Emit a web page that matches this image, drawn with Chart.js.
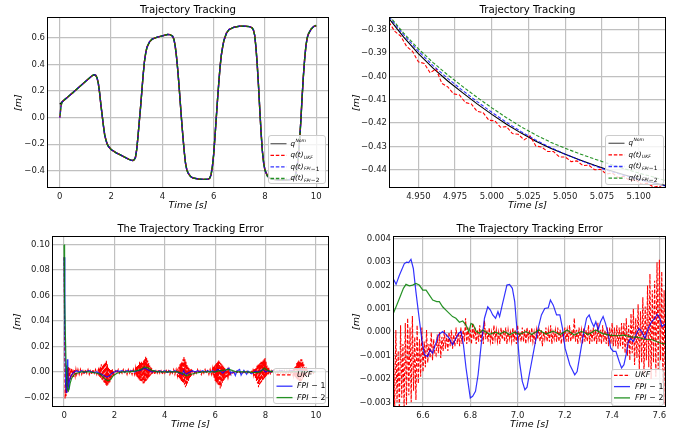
<!DOCTYPE html>
<html lang="en">
<head>
<meta charset="UTF-8">
<title>Trajectory Tracking</title>
<script src="https://cdn.jsdelivr.net/npm/chart.js@4.4.1/dist/chart.umd.min.js"></script>
<style>
  html, body { margin: 0; padding: 0; background: #fff; }
  body { width: 683px; height: 439px; position: relative; overflow: hidden; }
  canvas { position: absolute; }
</style>
</head>
<body>
<canvas id="tl" width="340" height="215" style="left:0;top:0"></canvas>
<canvas id="tr" width="343" height="215" style="left:340px;top:0"></canvas>
<canvas id="bl" width="340" height="224" style="left:0;top:215px"></canvas>
<canvas id="br" width="343" height="224" style="left:340px;top:215px"></canvas>

<script>
// ---------- top left : whole trajectory ----------
const tlTime = [0, 0.05, 0.1, 0.2, 0.3, 0.4, 0.5, 0.6, 0.7, 0.8, 0.9, 1.0, 1.1, 1.2, 1.3,
  1.35, 1.4, 1.45, 1.5, 1.55, 1.6, 1.65, 1.7, 1.75, 1.8, 1.85, 1.9,
  2.0, 2.2, 2.4, 2.6, 2.7, 2.8, 2.85, 2.9, 2.95,
  3.0, 3.05, 3.1, 3.15, 3.2, 3.25, 3.3, 3.35, 3.4, 3.5, 3.6, 3.8,
  4.0, 4.2, 4.3, 4.4, 4.45, 4.5, 4.55, 4.6, 4.65, 4.7, 4.75, 4.8, 4.85, 4.9, 4.95,
  5.0, 5.1, 5.2, 5.4, 5.6, 5.8, 5.85, 5.9, 5.95,
  6.0, 6.05, 6.1, 6.15, 6.2, 6.25, 6.3, 6.35, 6.4, 6.5, 6.6, 6.8,
  7.0, 7.2, 7.4, 7.5, 7.55, 7.6, 7.65, 7.7, 7.75, 7.8, 7.85, 7.9, 7.95,
  8.0, 8.1, 8.2, 8.4, 8.6, 8.8,
  9.0, 9.1, 9.2, 9.25, 9.3, 9.35, 9.4, 9.45, 9.5, 9.55, 9.6, 9.65, 9.7, 9.8, 9.9,
  10.0];
const tlNom = [0.100, 0.110, 0.120, 0.137, 0.153, 0.170, 0.186, 0.203, 0.220, 0.237, 0.254, 0.271, 0.288, 0.305, 0.320,
  0.322, 0.318, 0.300, 0.260, 0.190, 0.100, 0.020, -0.060, -0.130, -0.170, -0.200, -0.218,
  -0.240, -0.265, -0.285, -0.305, -0.315, -0.322, -0.323, -0.318, -0.300,
  -0.240, -0.140, -0.030, 0.080, 0.200, 0.320, 0.420, 0.485, 0.530, 0.570, 0.590, 0.605,
  0.615, 0.625, 0.624, 0.612, 0.590, 0.540, 0.460, 0.360, 0.240, 0.110, -0.020, -0.140, -0.250, -0.340, -0.390,
  -0.416, -0.444, -0.455, -0.462, -0.465, -0.463, -0.455, -0.430, -0.370,
  -0.280, -0.150, -0.010, 0.130, 0.260, 0.380, 0.470, 0.530, 0.580, 0.635, 0.662, 0.680,
  0.687, 0.688, 0.684, 0.675, 0.660, 0.620, 0.530, 0.400, 0.240, 0.060, -0.110, -0.250, -0.340,
  -0.395, -0.440, -0.458, -0.467, -0.470, -0.470,
  -0.466, -0.458, -0.430, -0.380, -0.300, -0.180, -0.030, 0.150, 0.310, 0.440, 0.540, 0.600, 0.630, 0.665, 0.685,
  0.693];
// the estimates start at zero and join the nominal curve after the second sample
const tlEstHead = [0.0, 0.092];
const tlXTicks = [0, 2, 4, 6, 8, 10];
const tlYTicks = [-0.4, -0.2, 0.0, 0.2, 0.4, 0.6];

// ---------- top right : zoom around t = 5 s ----------
const trTime = [4.93, 4.94, 4.95, 4.96, 4.97, 4.98, 4.99, 5.00, 5.01, 5.02,
  5.03, 5.04, 5.05, 5.06, 5.07, 5.08, 5.09, 5.10, 5.11, 5.12];
const trNom = [-0.3753, -0.3832, -0.3903, -0.3965, -0.4020, -0.4070, -0.4118, -0.4163, -0.4205, -0.4243,
  -0.4278, -0.4308, -0.4334, -0.4358, -0.4381, -0.4402, -0.4421, -0.4439, -0.4455, -0.4470];
const trFpi1 = [-0.3745, -0.3822, -0.3892, -0.3954, -0.4009, -0.4060, -0.4108, -0.4154, -0.4197, -0.4237,
  -0.4273, -0.4305, -0.4333, -0.4359, -0.4383, -0.4405, -0.4424, -0.4441, -0.4457, -0.4472];
const trFpi2 = [-0.3740, -0.3815, -0.3882, -0.3941, -0.3994, -0.4043, -0.4090, -0.4135, -0.4177, -0.4216,
  -0.4251, -0.4282, -0.4308, -0.4332, -0.4354, -0.4375, -0.4395, -0.4414, -0.4431, -0.4450];
const trUkf = [[4.930, -0.3768], [4.934, -0.3808], [4.938, -0.3828], [4.942, -0.3872], [4.946, -0.3893],
  [4.950, -0.3938], [4.954, -0.3945], [4.958, -0.3985], [4.962, -0.3968], [4.966, -0.4030],
  [4.970, -0.4045], [4.974, -0.4075], [4.978, -0.4080], [4.982, -0.4112], [4.986, -0.4118],
  [4.990, -0.4150], [4.994, -0.4155], [4.998, -0.4188], [5.002, -0.4190], [5.006, -0.4218],
  [5.010, -0.4215], [5.014, -0.4245], [5.018, -0.4248], [5.022, -0.4272], [5.026, -0.4255],
  [5.030, -0.4298], [5.034, -0.4303], [5.038, -0.4322], [5.042, -0.4322], [5.046, -0.4345],
  [5.050, -0.4345], [5.054, -0.4365], [5.058, -0.4362], [5.062, -0.4382], [5.066, -0.4380],
  [5.070, -0.4400], [5.074, -0.4398], [5.078, -0.4418], [5.082, -0.4414], [5.086, -0.4433],
  [5.090, -0.4428], [5.094, -0.4447], [5.098, -0.4443], [5.102, -0.4462], [5.106, -0.4457],
  [5.110, -0.4474], [5.114, -0.4470], [5.118, -0.4484], [5.122, -0.4480]];
const trXTicks = [4.95, 4.975, 5.0, 5.025, 5.05, 5.075, 5.1];
const trYTicks = [-0.44, -0.43, -0.42, -0.41, -0.40, -0.39, -0.38];

// ---------- bottom left : tracking error ----------
const blUkf = [
  [0, 0.090], [0.02, 0.035], [0.04, -0.021], [0.06, -0.008], [0.08, -0.019], [0.10, -0.004], [0.12, -0.016],
  [0.14, 0.003], [0.16, -0.012], [0.18, 0.004], [0.20, -0.008], [0.23, 0.003], [0.26, -0.006], [0.29, 0.003],
  [0.32, -0.004], [0.35, 0.002], [0.38, -0.004], [0.41, 0.002], [0.44, -0.003], [0.47, 0.002], [0.50, -0.002],
  [0.55, 0.002], [0.60, -0.002], [0.65, 0.002], [0.70, -0.002], [0.75, 0.001], [0.80, -0.002], [0.85, 0.002],
  [0.90, -0.001], [0.95, 0.002], [1.00, -0.002], [1.05, 0.001], [1.10, -0.002], [1.15, 0.002], [1.20, -0.001],
  [1.25, 0.002], [1.30, -0.002],
  [1.36, 0.002], [1.38, -0.003], [1.40, 0.003], [1.42, -0.004], [1.44, 0.004], [1.46, -0.005], [1.48, 0.006],
  [1.50, -0.006], [1.52, 0.005], [1.54, -0.007], [1.56, 0.006], [1.58, -0.008], [1.60, 0.007], [1.62, -0.009],
  [1.64, 0.008], [1.66, -0.010], [1.68, 0.009], [1.70, -0.011], [1.72, 0.006], [1.74, -0.010], [1.76, 0.004],
  [1.78, -0.009], [1.80, 0.003], [1.82, -0.008], [1.84, 0.002], [1.86, -0.006], [1.88, 0.002], [1.90, -0.004],
  [1.92, 0.002], [1.94, -0.003], [1.96, 0.001], [1.98, -0.002],
  [2.05, 0.001], [2.10, -0.001], [2.15, 0.002], [2.20, -0.001], [2.25, 0.001], [2.30, -0.001], [2.35, 0.002],
  [2.40, -0.001], [2.45, 0.001], [2.50, -0.002], [2.55, 0.002], [2.60, -0.001], [2.65, 0.001], [2.70, -0.002],
  [2.75, 0.002], [2.80, -0.002],
  [2.84, 0.003], [2.86, -0.003], [2.88, 0.004], [2.90, -0.004], [2.92, 0.005], [2.94, -0.005], [2.96, 0.006],
  [2.98, -0.006], [3.00, 0.008], [3.02, -0.007], [3.04, 0.007], [3.06, -0.007], [3.08, 0.008], [3.10, -0.008],
  [3.12, 0.007], [3.14, -0.009], [3.16, 0.009], [3.18, -0.009], [3.20, 0.010], [3.22, -0.008], [3.24, 0.012],
  [3.26, -0.007], [3.28, 0.011], [3.30, -0.006], [3.32, 0.009], [3.34, -0.005], [3.36, 0.007], [3.38, -0.004],
  [3.40, 0.005], [3.42, -0.003], [3.44, 0.004], [3.46, -0.002], [3.48, 0.003], [3.50, -0.002],
  [3.55, 0.002], [3.60, -0.002], [3.65, 0.001], [3.70, -0.001], [3.75, 0.002], [3.80, -0.001], [3.85, 0.001],
  [3.90, -0.002], [3.95, 0.001], [4.00, -0.001], [4.05, 0.002], [4.10, -0.001], [4.15, 0.001], [4.20, -0.002],
  [4.25, 0.001], [4.30, -0.001], [4.35, 0.002], [4.40, -0.002], [4.45, 0.002], [4.50, -0.003],
  [4.52, 0.003], [4.54, -0.004], [4.56, 0.004], [4.58, -0.005], [4.60, 0.006], [4.62, -0.006], [4.64, 0.007],
  [4.66, -0.007], [4.68, 0.008], [4.70, -0.008], [4.72, 0.010], [4.74, -0.009], [4.76, 0.012], [4.78, -0.010],
  [4.80, 0.010], [4.82, -0.012], [4.84, 0.008], [4.86, -0.011], [4.88, 0.006], [4.90, -0.009], [4.92, 0.004],
  [4.94, -0.007], [4.96, 0.003], [4.98, -0.005], [5.00, 0.002], [5.02, -0.004], [5.04, 0.002], [5.06, -0.003],
  [5.08, 0.001],
  [5.15, -0.002], [5.20, 0.001], [5.25, -0.001], [5.30, 0.002], [5.35, -0.001], [5.40, 0.001], [5.45, -0.002],
  [5.50, 0.001], [5.55, -0.001], [5.60, 0.002], [5.65, -0.001], [5.70, 0.001], [5.75, -0.002], [5.80, 0.002],
  [5.85, -0.002], [5.90, 0.003],
  [5.92, -0.003], [5.94, 0.004], [5.96, -0.005], [5.98, 0.005], [6.00, -0.007], [6.02, 0.006], [6.04, -0.008],
  [6.06, 0.007], [6.08, -0.009], [6.10, 0.008], [6.12, -0.010], [6.14, 0.009], [6.16, -0.011], [6.18, 0.008],
  [6.20, -0.013], [6.22, 0.007], [6.24, -0.012], [6.26, 0.006], [6.28, -0.009], [6.30, 0.005], [6.32, -0.007],
  [6.34, 0.004], [6.36, -0.006], [6.38, 0.003], [6.40, -0.005], [6.42, 0.002], [6.44, -0.004], [6.46, 0.001],
  [6.48, -0.003], [6.50, 0.0005], [6.52, -0.003], [6.54, 0.0007], [6.56, -0.003], [6.58, 0.0003], [6.60, -0.002],
  [6.65, 0.000], [6.70, -0.001], [6.75, 0.000], [6.80, -0.001], [6.85, 0.0005], [6.90, -0.0008], [6.95, 0.0002],
  [7.00, -0.0008], [7.05, 0.0002], [7.10, -0.0008], [7.15, 0.0002], [7.20, -0.0008], [7.25, 0.0005], [7.30, -0.0008],
  [7.35, 0.0003], [7.40, -0.0008], [7.45, 0.0005],
  [7.48, -0.001], [7.50, 0.001], [7.52, -0.002], [7.54, 0.002], [7.56, -0.003], [7.58, 0.003], [7.60, -0.005],
  [7.62, 0.003], [7.64, -0.007], [7.66, 0.005], [7.68, -0.009], [7.70, 0.006], [7.72, -0.012], [7.74, 0.006],
  [7.76, -0.010], [7.78, 0.007], [7.80, -0.009], [7.82, 0.008], [7.84, -0.008], [7.86, 0.008], [7.88, -0.007],
  [7.90, 0.009], [7.92, -0.006], [7.94, 0.010], [7.96, -0.005], [7.98, 0.011], [8.00, -0.004], [8.02, 0.008],
  [8.04, -0.003], [8.06, 0.005], [8.08, -0.002], [8.10, 0.003], [8.12, -0.002], [8.14, 0.002],
  [8.20, -0.002], [8.25, 0.001], [8.30, -0.001], [8.35, 0.002], [8.40, -0.001], [8.45, 0.001], [8.50, -0.002],
  [8.55, 0.001], [8.60, -0.001], [8.65, 0.002], [8.70, -0.001], [8.75, 0.001], [8.80, -0.002], [8.85, 0.001],
  [8.90, -0.001], [8.95, 0.002], [9.00, -0.002], [9.05, 0.002], [9.10, -0.003],
  [9.12, 0.003], [9.14, -0.003], [9.16, 0.004], [9.18, -0.004], [9.20, 0.005], [9.22, -0.005], [9.24, 0.007],
  [9.26, -0.006], [9.28, 0.008], [9.30, -0.006], [9.32, 0.009], [9.34, -0.007], [9.36, 0.008], [9.38, -0.008],
  [9.40, 0.010], [9.42, -0.007], [9.44, 0.010], [9.46, -0.006], [9.48, 0.008], [9.50, -0.005], [9.52, 0.006],
  [9.54, -0.004], [9.56, 0.004], [9.58, -0.003], [9.60, 0.003], [9.62, -0.002], [9.64, 0.002],
  [9.70, -0.002], [9.75, 0.001], [9.80, -0.001], [9.85, 0.001], [9.90, -0.001], [9.95, 0.001], [10.00, 0.000]];
const blFpi1 = [
  [0, 0.090], [0.03, 0.030], [0.06, -0.010], [0.09, -0.016], [0.11, 0.000], [0.13, 0.010], [0.15, 0.004],
  [0.17, -0.012], [0.19, -0.014], [0.21, -0.008], [0.25, -0.004], [0.3, -0.002], [0.35, -0.001], [0.4, 0.000],
  [0.5, 0.001], [0.6, 0.000], [0.7, 0.001], [0.8, -0.0005], [0.9, 0.0005], [1.0, 0.001], [1.1, 0.000],
  [1.2, -0.0005], [1.3, 0.000], [1.4, -0.001], [1.5, -0.002], [1.6, -0.003], [1.7, -0.004], [1.8, -0.003],
  [1.9, -0.001], [2.0, 0.000], [2.1, 0.001], [2.2, 0.0005], [2.3, 0.001], [2.4, 0.000], [2.5, 0.001],
  [2.6, 0.0005], [2.7, 0.001], [2.8, 0.000], [2.9, 0.001], [3.0, 0.001], [3.1, 0.002], [3.2, 0.003],
  [3.3, 0.002], [3.4, 0.001], [3.5, 0.000], [3.6, 0.001], [3.7, 0.000], [3.8, 0.001], [3.9, 0.000],
  [4.0, 0.001], [4.1, -0.0005], [4.2, 0.001], [4.3, 0.000], [4.4, 0.001], [4.5, 0.000], [4.6, -0.001],
  [4.7, -0.002], [4.75, 0.001], [4.8, -0.001], [4.85, -0.002], [4.9, -0.001], [5.0, 0.000], [5.1, 0.001],
  [5.2, 0.000], [5.3, 0.001], [5.4, 0.000], [5.5, 0.001], [5.6, 0.000], [5.7, 0.001], [5.8, 0.000],
  [5.9, 0.001], [6.0, 0.000], [6.1, 0.002], [6.2, 0.001], [6.3, -0.001], [6.4, 0.001], [6.5, 0.0025],
  [6.55, 0.003], [6.6, 0.000], [6.62, -0.001], [6.7, 0.000], [6.75, -0.0005], [6.8, -0.0028], [6.86, 0.0006],
  [6.97, 0.002], [7.03, -0.0025], [7.14, 0.0013], [7.25, -0.0018], [7.3, 0.0007], [7.44, -0.0015],
  [7.6, 0.0007], [7.7, 0.000], [7.8, 0.001], [7.9, 0.002], [8.0, 0.000], [8.1, 0.001], [8.2, 0.000],
  [8.3, 0.001], [8.4, 0.000], [8.6, 0.001], [8.8, 0.000], [9.0, 0.001], [9.2, 0.000], [9.4, 0.001],
  [9.6, 0.000], [9.8, 0.001], [10.0, 0.000]];
const blFpi2 = [
  [0, 0.100], [0.02, 0.060], [0.05, 0.030], [0.08, 0.005], [0.11, -0.010], [0.14, -0.014], [0.17, -0.015],
  [0.20, -0.013], [0.24, -0.009], [0.3, -0.005], [0.4, -0.002], [0.5, -0.001], [0.7, 0.000], [1.0, 0.000],
  [1.3, -0.001], [1.45, -0.002], [1.55, -0.004], [1.65, -0.006], [1.75, -0.007], [1.85, -0.006], [1.95, -0.003],
  [2.1, -0.001], [2.3, 0.000], [2.6, 0.000], [2.9, 0.001], [3.05, 0.002], [3.2, 0.004], [3.35, 0.003],
  [3.5, 0.001], [3.7, 0.000], [4.2, 0.000], [4.5, 0.000], [4.7, -0.001], [4.85, -0.003], [5.0, -0.002],
  [5.2, -0.001], [5.5, 0.000], [6.0, 0.000], [6.2, 0.001], [6.35, 0.0015], [6.55, 0.002], [6.7, 0.001],
  [6.85, 0.000], [7.2, 0.000], [7.6, -0.0005], [7.8, 0.000], [7.95, 0.003], [8.1, 0.001], [8.3, 0.000],
  [9.0, 0.000], [9.4, 0.0005], [10.0, 0.000]];
const blXTicks = [0, 2, 4, 6, 8, 10];
const blYTicks = [-0.02, 0.0, 0.02, 0.04, 0.06, 0.08, 0.10];

// ---------- bottom right : error zoom 6.5 .. 7.6 s ----------
const brUkf = [
  [6.470, -0.0035], [6.475, -0.0006], [6.480, -0.0034], [6.485, 0.0001], [6.490, -0.0030], [6.495, -0.0008],
  [6.500, -0.0035], [6.505, 0.0003], [6.510, -0.0028], [6.515, -0.0005], [6.520, -0.0033], [6.525, 0.0004],
  [6.530, -0.0031], [6.535, 0.0006], [6.540, -0.0027], [6.545, 0.0002], [6.550, -0.0030], [6.555, 0.0007],
  [6.560, -0.0025], [6.565, -0.0002], [6.570, -0.0029], [6.575, 0.0003], [6.580, -0.0022], [6.585, -0.0003],
  [6.590, -0.0019], [6.595, 0.0002], [6.600, -0.0017], [6.605, -0.0004], [6.610, -0.0015], [6.615, 0.0001],
  [6.620, -0.0013], [6.625, -0.0005], [6.630, -0.0011], [6.635, 0.0000], [6.640, -0.0012], [6.645, -0.0003],
  [6.650, -0.0009],
  [6.655, -0.0010], [6.660, -0.0001], [6.665, -0.0009], [6.670, 0.0000], [6.675, -0.0011], [6.680, -0.0002],
  [6.685, -0.0008], [6.690, 0.0001], [6.695, -0.0007], [6.700, -0.0001], [6.705, -0.0008], [6.710, 0.0000],
  [6.715, -0.0006], [6.720, 0.0001], [6.725, -0.0007], [6.730, -0.0001], [6.735, -0.0006], [6.740, 0.0002],
  [6.745, -0.0005], [6.750, 0.0000], [6.755, -0.0006], [6.760, 0.0002], [6.765, -0.0005], [6.770, 0.0001],
  [6.775, -0.0004], [6.780, 0.0006], [6.785, -0.0005], [6.790, 0.0002], [6.795, -0.0004], [6.800, 0.0001],
  [6.805, -0.0005], [6.810, 0.0004], [6.815, -0.0003], [6.820, 0.0002], [6.825, -0.0005], [6.830, 0.0001],
  [6.835, -0.0004], [6.840, 0.0003], [6.845, -0.0004], [6.850, 0.0001], [6.855, -0.0005], [6.860, 0.0005],
  [6.865, -0.0003], [6.870, 0.0001], [6.875, -0.0004], [6.880, 0.0002], [6.885, -0.0004], [6.890, 0.0000],
  [6.895, -0.0005], [6.900, 0.0003], [6.905, -0.0003], [6.910, 0.0001], [6.915, -0.0004], [6.920, 0.0000],
  [6.925, -0.0005], [6.930, 0.0002], [6.935, -0.0003], [6.940, 0.0001], [6.945, -0.0004], [6.950, 0.0002],
  [6.955, -0.0005], [6.960, 0.0001], [6.965, -0.0003], [6.970, 0.0000], [6.975, -0.0004], [6.980, 0.0002],
  [6.985, -0.0004], [6.990, 0.0001], [6.995, -0.0005], [7.000, 0.0003], [7.005, -0.0003], [7.010, 0.0000],
  [7.015, -0.0004], [7.020, 0.0002], [7.025, -0.0004], [7.030, 0.0001], [7.035, -0.0005], [7.040, 0.0002],
  [7.045, -0.0003], [7.050, 0.0001], [7.055, -0.0004], [7.060, 0.0002], [7.065, -0.0004], [7.070, 0.0000],
  [7.075, -0.0005], [7.080, 0.0001], [7.085, -0.0003], [7.090, 0.0002], [7.095, -0.0004], [7.100, 0.0001],
  [7.105, -0.0006], [7.110, 0.0000], [7.115, -0.0003], [7.120, 0.0002], [7.125, -0.0004], [7.130, 0.0001],
  [7.135, -0.0004], [7.140, 0.0003], [7.145, -0.0005], [7.150, 0.0000], [7.155, -0.0003], [7.160, 0.0001],
  [7.165, -0.0004], [7.170, 0.0002], [7.175, -0.0004], [7.180, 0.0001], [7.185, -0.0005], [7.190, 0.0000],
  [7.195, -0.0003], [7.200, 0.0002], [7.205, -0.0004], [7.210, 0.0001], [7.215, -0.0004], [7.220, 0.0003],
  [7.225, -0.0004], [7.230, 0.0001], [7.235, -0.0003], [7.240, 0.0006], [7.245, -0.0004], [7.250, 0.0001],
  [7.255, -0.0005], [7.260, 0.0002], [7.265, -0.0003], [7.270, 0.0001], [7.275, -0.0005], [7.280, 0.0002],
  [7.285, -0.0004], [7.290, 0.0001], [7.295, -0.0004], [7.300, 0.0003], [7.305, -0.0005], [7.310, 0.0001],
  [7.315, -0.0004], [7.320, 0.0002], [7.325, -0.0004], [7.330, 0.0001], [7.335, -0.0005], [7.340, 0.0004],
  [7.345, -0.0004], [7.350, 0.0001], [7.355, -0.0005], [7.360, 0.0003], [7.365, -0.0004], [7.370, 0.0001],
  [7.375, -0.0005], [7.380, 0.0002], [7.385, -0.0006], [7.390, 0.0002], [7.395, -0.0005], [7.400, 0.0004],
  [7.405, -0.0006], [7.410, 0.0002], [7.415, -0.0006], [7.420, 0.0003], [7.425, -0.0007], [7.430, 0.0002],
  [7.435, -0.0006], [7.440, 0.0004],
  [7.445, -0.0007], [7.450, 0.0004], [7.455, -0.0009], [7.460, 0.0006], [7.465, -0.0010], [7.470, 0.0003],
  [7.475, -0.0012], [7.480, 0.0008], [7.485, -0.0009], [7.490, 0.0010], [7.495, -0.0014], [7.500, 0.0006],
  [7.505, -0.0011], [7.510, 0.0012], [7.515, -0.0016], [7.520, 0.0009], [7.525, -0.0013], [7.530, 0.0015],
  [7.535, -0.0018], [7.540, 0.0011], [7.545, -0.0012], [7.550, 0.0020], [7.555, -0.0015], [7.560, 0.0025],
  [7.565, -0.0020], [7.570, 0.0018], [7.575, -0.0013], [7.580, 0.0022], [7.585, -0.0019], [7.590, 0.0030],
  [7.595, -0.0016], [7.600, 0.0031], [7.605, -0.0012], [7.610, 0.0026], [7.615, -0.0022], [7.620, 0.0018],
  [7.625, -0.0031], [7.628, 0.0042]];
const brFpi1 = [
  [6.47, 0.00237], [6.486, 0.00205], [6.50, 0.00244], [6.521, 0.00294], [6.531, 0.0030], [6.539, 0.00298],
  [6.549, 0.00312], [6.559, 0.00273], [6.570, 0.00173], [6.582, 0.00074], [6.596, -0.0004], [6.606, -0.00097],
  [6.62, -0.00104], [6.63, -0.00075], [6.641, -0.0009], [6.652, -0.00054], [6.666, -0.00011], [6.683, 0.00003],
  [6.697, -0.00009], [6.711, -0.00026], [6.725, -0.00054], [6.739, -0.00026], [6.751, -0.00004], [6.761, 0.00003],
  [6.771, -0.00054], [6.782, -0.00153], [6.794, -0.00239], [6.80, -0.00281], [6.81, -0.00274], [6.822, -0.00253],
  [6.833, -0.00182], [6.846, -0.00054], [6.86, 0.0006], [6.874, 0.00109], [6.885, 0.00095], [6.895, 0.00074],
  [6.907, 0.0006], [6.917, 0.00088], [6.924, 0.00067], [6.935, 0.00116], [6.945, 0.00159], [6.955, 0.00202],
  [6.966, 0.00205], [6.978, 0.00188], [6.988, 0.00131], [6.997, 0.00017], [7.008, -0.00125], [7.02, -0.0021],
  [7.031, -0.00246], [7.04, -0.00235], [7.052, -0.00168], [7.073, -0.00054], [7.087, 0.00017], [7.101, 0.00074],
  [7.115, 0.00102], [7.13, 0.00105], [7.139, 0.00138], [7.151, 0.00116], [7.165, 0.00074], [7.179, 0.00074],
  [7.19, 0.00017], [7.201, -0.00068], [7.221, -0.00139], [7.242, -0.00182], [7.252, -0.00168], [7.264, -0.00097],
  [7.278, -0.00011], [7.292, 0.0006], [7.303, 0.00074], [7.313, 0.00045], [7.323, 0.00024], [7.331, 0.00045],
  [7.341, 0.0001], [7.351, 0.00045], [7.362, 0.00067], [7.372, 0.00038], [7.384, -0.00011], [7.394, -0.00068],
  [7.405, -0.00082], [7.416, -0.00082], [7.43, -0.00125], [7.44, -0.00153], [7.45, -0.00139], [7.459, -0.00097],
  [7.469, -0.0004], [7.478, -0.00026], [7.49, -0.0004], [7.501, -0.00011], [7.514, 0.00017], [7.525, 0.00003],
  [7.539, -0.00026], [7.553, 0.00017], [7.567, 0.00045], [7.581, 0.0006], [7.591, 0.00077], [7.602, 0.0006],
  [7.611, 0.00024], [7.619, 0.00031], [7.63, 0.00038]];
const brFpi2 = [
  [6.47, 0.00070], [6.486, 0.00109], [6.503, 0.00152], [6.517, 0.00188], [6.528, 0.00205], [6.542, 0.00199],
  [6.556, 0.00202], [6.570, 0.00209], [6.584, 0.00202], [6.599, 0.0018], [6.613, 0.0018], [6.627, 0.00159],
  [6.641, 0.00138], [6.658, 0.00131], [6.669, 0.00131], [6.683, 0.00109], [6.697, 0.00095], [6.711, 0.00081],
  [6.725, 0.00067], [6.739, 0.0006], [6.754, 0.00043], [6.768, 0.00048], [6.782, 0.00031], [6.794, 0.00003],
  [6.803, 0.00038], [6.813, 0.00031], [6.825, 0.00003], [6.839, -0.00004], [6.853, 0.0001], [6.867, 0.0],
  [6.881, -0.00009], [6.895, -0.00004], [6.909, 0.0], [6.924, -0.00009], [6.945, 0.00003], [6.966, -0.00011],
  [6.987, 0.0], [7.008, -0.00009], [7.036, 0.00003], [7.06, -0.0001], [7.09, 0.0001], [7.12, -0.00008],
  [7.15, 0.00005], [7.18, -0.0001], [7.21, 0.0001], [7.24, -0.00012], [7.27, 0.00004], [7.30, -0.0001],
  [7.33, 0.0001], [7.36, -0.00006], [7.39, -0.00012], [7.42, -0.00015], [7.45, -0.00012], [7.48, -0.0002],
  [7.51, -0.00022], [7.54, -0.0003], [7.57, -0.00032], [7.60, -0.00045], [7.63, -0.00052]];
const brXTicks = [6.6, 6.8, 7.0, 7.2, 7.4, 7.6];
const brYTicks = [-0.003, -0.002, -0.001, 0.0, 0.001, 0.002, 0.003, 0.004];

// legend texts (main text + optional super/subscript parts)
const trackLegend = [
  { main: 'q', sup: 'Nom' },
  { main: 'q(t)', sub: 'UKF' },
  { main: 'q(t)', sub: 'FPI', subTail: '\u22121' },
  { main: 'q(t)', sub: 'FPI', subTail: '\u22122' }
];
const errorLegend = [
  { main: 'UKF' },
  { main: 'FPI', tail: ' \u2212 1' },
  { main: 'FPI', tail: ' \u2212 2' }
];

// ---------------------------------------------------------------
const FONT = '"DejaVu Sans"';
const GRID = '#c0c0c0';
const RED = '#ff0000', BLUE = 'rgba(0,0,255,0.8)', GREEN = 'rgba(0,128,0,0.85)';
const DASH = [3.5, 1.8];

Chart.defaults.font.family = FONT;
Chart.defaults.color = '#000';

const xy = (xs, ys) => xs.map((x, i) => ({ x: x, y: ys[i] }));
const pairs = p => p.map(([x, y]) => ({ x: x, y: y }));

function fmt(v, d) {
  return (v < -1e-9 ? '\u2212' : '') + Math.abs(v).toFixed(d);
}

function line(label, data, color, dash, order, width, dashOffset) {
  return {
    label: label, data: data, borderColor: color, borderWidth: width || 1.1,
    borderDash: dash || [], borderDashOffset: dashOffset || 0,
    pointRadius: 0, tension: 0, fill: false, order: order, clip: 0
  };
}

// legend placement, per canvas
const legendBoxes = {
  tl: { labels: trackLegend, w: 57, h: 48, inR: 4, inB: 5, first: 8.2, step: 11.6, size: 7.2, hx: 2, tx: 22, handles: ['#666'] },
  tr: { labels: trackLegend, w: 58, h: 49, inR: 3, inB: 4, first: 7.8, step: 11.6, size: 7.2, hx: 3, tx: 23, handles: ['#666'] },
  bl: { labels: errorLegend, w: 52, h: 35, inR: 4, inB: 4, first: 6.3, step: 11.4, size: 7.8, hx: 3, tx: 23.5, handles: [] },
  br: { labels: errorLegend, w: 52, h: 36, inR: 3, inB: 2, first: 5.8, step: 11.3, size: 7.8, hx: 2.5, tx: 23.5, handles: [] }
};

function drawLabel(ctx, lab, x, y, s) {
  ctx.font = 'italic ' + s + 'px ' + FONT;
  ctx.fillText(lab.main, x, y);
  x += ctx.measureText(lab.main).width + 0.4;
  const small = (s * 0.62).toFixed(1);
  if (lab.sup) {
    ctx.font = 'italic ' + small + 'px ' + FONT;
    ctx.fillText(lab.sup, x, y - s * 0.42);
  }
  if (lab.sub) {
    ctx.font = 'italic ' + small + 'px ' + FONT;
    ctx.fillText(lab.sub, x, y + s * 0.3);
    x += ctx.measureText(lab.sub).width + 0.3;
  }
  if (lab.subTail) {
    ctx.font = (s * 0.8).toFixed(1) + 'px ' + FONT;
    ctx.fillText(lab.subTail, x, y + s * 0.3);
  }
  if (lab.tail) {
    ctx.font = s + 'px ' + FONT;
    ctx.fillText(lab.tail, x, y);
  }
}

function drawLegend(chart, L) {
  const ctx = chart.ctx, a = chart.chartArea;
  const x0 = Math.round(a.right - L.inR - L.w) + 0.5;
  const y0 = Math.round(a.bottom - L.inB - L.h) + 0.5;
  ctx.beginPath();
  if (ctx.roundRect) ctx.roundRect(x0, y0, L.w, L.h, 2.5); else ctx.rect(x0, y0, L.w, L.h);
  ctx.fillStyle = 'rgba(255,255,255,0.8)';
  ctx.fill();
  ctx.strokeStyle = '#cccccc';
  ctx.lineWidth = 1;
  ctx.stroke();
  ctx.textAlign = 'left';
  ctx.textBaseline = 'middle';
  L.labels.forEach((lab, i) => {
    const ds = chart.data.datasets[i];
    const y = y0 + L.first + i * L.step;
    ctx.beginPath();
    ctx.setLineDash(ds.borderDash || []);
    ctx.lineDashOffset = 0;
    ctx.strokeStyle = L.handles[i] || ds.borderColor;
    ctx.lineWidth = 1.3;
    ctx.moveTo(x0 + L.hx, y);
    ctx.lineTo(x0 + L.hx + 16, y);
    ctx.stroke();
    ctx.setLineDash([]);
    ctx.fillStyle = '#000';
    drawLabel(ctx, lab, x0 + L.tx, y, L.size);
  });
}

const mplFrame = {
  id: 'mplFrame',
  afterLayout(chart) {
    // matplotlib centres the title over the axes, not the figure cell
    const t = chart.titleBlock, a = chart.chartArea;
    if (t) { t.left = a.left; t.right = a.right; t.width = a.right - a.left; }
  },
  afterDatasetsDraw(chart) {
    const ctx = chart.ctx, a = chart.chartArea;
    ctx.save();
    ctx.setLineDash([]);
    ctx.strokeStyle = '#000';
    ctx.lineWidth = 1;
    ctx.strokeRect(Math.round(a.left) + 0.5, Math.round(a.top) + 0.5,
      Math.round(a.right - a.left) - 1, Math.round(a.bottom - a.top) - 1);
    const L = legendBoxes[chart.canvas.id];
    if (L) drawLegend(chart, L);
    ctx.restore();
  }
};

function axes(c) {
  return {
    x: {
      type: 'linear', min: c.xmin, max: c.xmax,
      afterBuildTicks: s => { s.ticks = c.xTicks.map(v => ({ value: v })); },
      afterFit: s => { s.height = c.xh; },
      ticks: { callback: v => fmt(v, c.xd), font: { size: 8.5 }, color: '#222', padding: 3.5, maxRotation: 0, autoSkip: false },
      grid: { color: GRID, lineWidth: 1.2, drawTicks: false },
      border: { display: false },
      title: { display: true, text: 'Time [s]', font: { size: 9.5, style: 'italic' }, color: '#000', padding: { top: 0, bottom: c.xtp } }
    },
    y: {
      type: 'linear', min: c.ymin, max: c.ymax,
      afterBuildTicks: s => { s.ticks = c.yTicks.map(v => ({ value: v })); },
      afterFit: s => { s.width = c.yw; },
      ticks: { callback: v => fmt(v, c.yd), font: { size: 8.5 }, color: '#222', padding: 2, autoSkip: false },
      grid: { color: GRID, lineWidth: 1.2, drawTicks: false },
      border: { display: false },
      title: { display: true, text: '[m]', font: { size: 9.5, style: 'italic' }, color: '#000', padding: { top: c.ytp, bottom: 0 } }
    }
  };
}

function makeChart(id, c) {
  return new Chart(document.getElementById(id), {
    type: 'line',
    data: { datasets: c.datasets },
    options: {
      responsive: false, animation: false, events: [], devicePixelRatio: 1,
      layout: { padding: { left: 0, right: c.padR, top: 0, bottom: 0 } },
      scales: axes(c),
      plugins: {
        legend: { display: false },
        tooltip: { enabled: false },
        title: { display: true, text: c.title, color: '#000', font: { size: 10.2, weight: 'normal' },
                 padding: { top: c.titleTop, bottom: 1 } }
      }
    },
    plugins: [mplFrame]
  });
}

const tlEst = tlEstHead.concat(tlNom.slice(tlEstHead.length));

makeChart('tl', {
  title: 'Trajectory Tracking', titleTop: 4, padR: 11, yw: 47, xh: 27, ytp: 12.5, xtp: 3.3,
  xmin: -0.5, xmax: 10.5, ymin: -0.53, ymax: 0.755, xd: 0, yd: 1, xTicks: tlXTicks, yTicks: tlYTicks,
  datasets: [
    line('qNom', xy(tlTime, tlNom), '#000', [], 4, 1.4),
    line('UKF', xy(tlTime, tlEst), RED, DASH, 3, 1.4, 0),
    line('FPI-1', xy(tlTime, tlEst), BLUE, DASH, 2, 1.4, 1.8),
    line('FPI-2', xy(tlTime, tlEst), GREEN, DASH, 1, 1.4, 3.6)
  ]
});

makeChart('tr', {
  title: 'Trajectory Tracking', titleTop: 4, padR: 17, yw: 49, xh: 27, ytp: 10.8, xtp: 3.3,
  xmin: 4.930, xmax: 5.1186, ymin: -0.4478, ymax: -0.3747, xd: 3, yd: 2, xTicks: trXTicks, yTicks: trYTicks,
  datasets: [
    line('qNom', xy(trTime, trNom), '#000', [], 4, 1.1),
    line('UKF', pairs(trUkf), RED, DASH, 3, 1.1),
    line('FPI-1', xy(trTime, trFpi1), BLUE, DASH, 2, 1.1),
    line('FPI-2', xy(trTime, trFpi2), GREEN, DASH, 1, 1.1)
  ]
});

makeChart('bl', {
  title: 'The Trajectory Tracking Error', titleTop: 8, padR: 11, yw: 52, xh: 32, ytp: 12.1, xtp: 8.3,
  xmin: -0.48, xmax: 10.52, ymin: -0.0275, ymax: 0.1065, xd: 0, yd: 2, xTicks: blXTicks, yTicks: blYTicks,
  datasets: [
    line('UKF', pairs(blUkf), RED, DASH, 3, 1.1),
    line('FPI-1', pairs(blFpi1), BLUE, [], 2, 1.2),
    line('FPI-2', pairs(blFpi2), GREEN, [], 1, 1.2)
  ]
});

makeChart('br', {
  title: 'The Trajectory Tracking Error', titleTop: 8, padR: 17, yw: 53, xh: 32, ytp: 10.8, xtp: 8.3,
  xmin: 6.473, xmax: 7.628, ymin: -0.0032, ymax: 0.00411, xd: 1, yd: 3, xTicks: brXTicks, yTicks: brYTicks,
  datasets: [
    line('UKF', pairs(brUkf), RED, DASH, 3, 1.1),
    line('FPI-1', pairs(brFpi1), BLUE, [], 2, 1.2),
    line('FPI-2', pairs(brFpi2), GREEN, [], 1, 1.2)
  ]
});
</script>
</body>
</html>
